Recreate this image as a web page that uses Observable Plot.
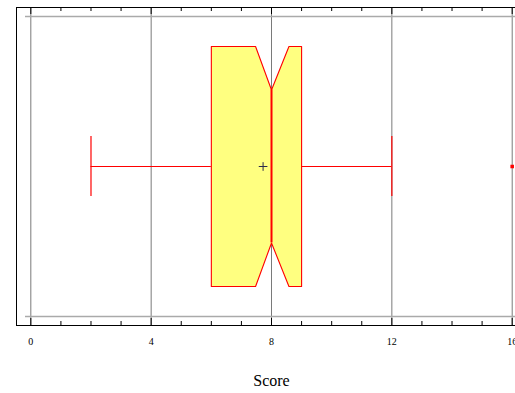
<!DOCTYPE html>
<html>
<head>
<meta charset="utf-8">
<script src="https://cdn.jsdelivr.net/npm/d3@7"></script>
<script src="https://cdn.jsdelivr.net/npm/@observablehq/plot@0.6"></script>
<style>
  html, body { margin: 0; padding: 0; background: #fff; }
</style>
</head>
<body>
<div id="chart"></div>
<script>
// ---- data ----
const axisLabel = "Score";
const whiskerLow = 2;
const q1 = 6;
const median = 8;
const q3 = 9;
const whiskerHigh = 12;
const mean = 7.72;
const notchLow = 7.47;
const notchHigh = 8.58;
const outliers = [16];
const majorTicks = [0, 4, 8, 12, 16];
const minorTicks = [1, 2, 3, 5, 6, 7, 9, 10, 11, 13, 14, 15];

// ---- layout (data-space extents) ----
const xLo = -0.476, xHi = 16.11;
const yMin = -1.06, yMax = 1.06;       // frame
const gridY = [-1, 1];                 // horizontal guide lines
const boxHalf = 0.8, capHalf = 0.2, notchDepth = 0.29;
const W = 515, H = 393, mTop = 7, mBottom = 68;
const ppu = (H - mTop - mBottom) / (yMax - yMin);
const majorLen = 7 / ppu, minorLen = 4 / ppu;
const serif = "Liberation Serif";

const notchY = boxHalf - notchDepth;
const boxPts = [
  [q1, boxHalf], [notchLow, boxHalf], [median, notchY], [notchHigh, boxHalf], [q3, boxHalf],
  [q3, -boxHalf], [notchHigh, -boxHalf], [median, -notchY], [notchLow, -boxHalf], [q1, -boxHalf],
  [q1, boxHalf]
].map(([x, y]) => ({x, y}));

const chart = Plot.plot({
  width: W, height: H,
  marginTop: mTop, marginBottom: mBottom, marginLeft: 16, marginRight: 0,
  x: {domain: [xLo, xHi], axis: null},
  y: {domain: [yMin, yMax], axis: null},
  style: {fontFamily: serif, background: "#fff"},
  marks: [
    // gridlines
    Plot.ruleX(majorTicks, {x: d => d, y1: yMin, y2: yMax, stroke: "#7a7a7a", strokeWidth: 1}),
    Plot.ruleY(gridY, {y: d => d, insetLeft: 9, stroke: "#aaaaaa", strokeWidth: 1.3}),
    // frame (left, top, bottom)
    Plot.ruleX([xLo], {x: d => d, y1: yMin, y2: yMax, stroke: "#000"}),
    Plot.ruleY([yMin, yMax], {y: d => d, stroke: "#000"}),
    // ticks
    Plot.ruleX(majorTicks, {x: d => d, y1: yMin, y2: yMin + majorLen, stroke: "#000"}),
    Plot.ruleX(minorTicks, {x: d => d, y1: yMin, y2: yMin + minorLen, stroke: "#000"}),
    Plot.ruleX(majorTicks, {x: d => d, y1: yMax, y2: yMax - majorLen, stroke: "#000"}),
    Plot.ruleX(minorTicks, {x: d => d, y1: yMax, y2: yMax - minorLen, stroke: "#000"}),
    // whiskers
    Plot.ruleY([0], {x1: whiskerLow, x2: q1, y: d => d, stroke: "red"}),
    Plot.ruleY([0], {x1: q3, x2: whiskerHigh, y: d => d, stroke: "red"}),
    Plot.ruleX([whiskerLow, whiskerHigh], {x: d => d, y1: -capHalf, y2: capHalf, stroke: "red", strokeWidth: 1.2}),
    // notched box
    Plot.line(boxPts, {x: "x", y: "y", fill: "#ffff80", stroke: "red", strokeWidth: 1.1, curve: "linear"}),
    // median
    Plot.ruleX([median], {x: d => d, y1: -notchY, y2: notchY, stroke: "red", strokeWidth: 2}),
    // mean
    Plot.dot([mean], {x: d => d, y: 0, symbol: "plus", r: 2.9, stroke: "#2a2a4a", strokeWidth: 1}),
    // outliers
    Plot.dot(outliers, {x: d => d, y: 0, symbol: "square", r: 2, fill: "red", stroke: "none"}),
    // tick labels
    Plot.text(majorTicks, {x: d => d, y: yMin, dy: 16, text: d => String(d), fontSize: 10, fill: "#000"}),
    // axis label
    Plot.text([axisLabel], {x: (majorTicks[0] + majorTicks[majorTicks.length - 1]) / 2, y: yMin, dy: 55, text: d => d, fontSize: 16, fill: "#000"})
  ]
});
d3.select(chart).selectAll("text").style("font-family", "'Liberation Serif', serif");
document.getElementById("chart").appendChild(chart);
</script>
</body>
</html>
